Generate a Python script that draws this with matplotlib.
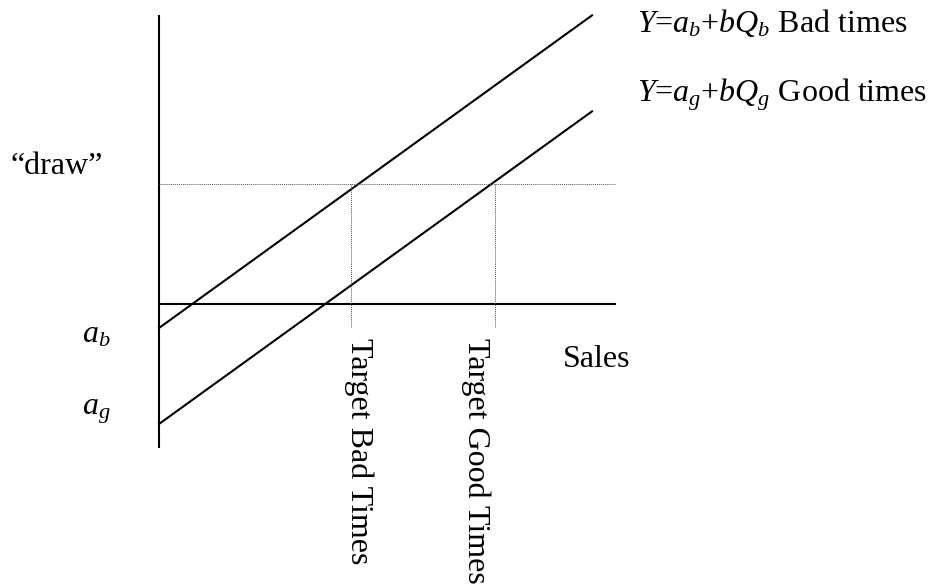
import matplotlib
matplotlib.use("Agg")
import matplotlib.pyplot as plt

plt.rcParams['font.family'] = ['Liberation Serif', 'DejaVu Serif']
plt.rcParams['mathtext.fontset'] = 'custom'
plt.rcParams['mathtext.rm'] = 'Liberation Serif'
plt.rcParams['mathtext.it'] = 'Liberation Serif:italic'

# chart values (arbitrary units, origin where the two axes cross)
sales_axis_end = 45.7
y_axis_range = [-14.4, 28.9]
a_b = -2.4          # intercept, bad times
a_g = -12.0         # intercept, good times
b = 0.722           # common slope
line_end = 43.3
draw_level = 12.0
target_bad = 19.2
target_good = 33.6
target_drop = -2.3

fig = plt.figure(figsize=(9.29, 5.85), dpi=100)
ax = fig.add_axes([0, 0, 1, 1])
ax.set_xlim(-15.9, 77.0)
ax.set_ylim(-28.1, 30.4)
ax.axis('off')

fs = 23
lw = 1.5

# axes
ax.plot([0, 0], y_axis_range, color='black', lw=lw, solid_capstyle='butt')
ax.plot([0, sales_axis_end], [0, 0], color='black', lw=lw, solid_capstyle='butt')

# the two lines
xs = [0, line_end]
ax.plot(xs, [a_b + b * x for x in xs], color='black', lw=lw)
ax.plot(xs, [a_g + b * x for x in xs], color='black', lw=lw)

# dotted guides
dot = dict(color='#555555', lw=0.7, linestyle=(0, (1, 1)))
ax.plot([0, sales_axis_end], [draw_level, draw_level], **dot)
ax.plot([target_bad, target_bad], [draw_level, target_drop], **dot)
ax.plot([target_good, target_good], [draw_level, target_drop], **dot)

# labels
ax.text(-14.9, 13.0, '\u201cdraw\u201d', fontsize=fs, va='baseline', ha='left')
ax.text(-7.7, -3.9, '$a_b$', fontsize=fs, va='baseline', ha='left')
ax.text(-7.7, -11.1, '$a_g$', fontsize=fs, va='baseline', ha='left')
ax.text(40.4, -6.3, 'Sales', fontsize=fs, va='baseline', ha='left')
ax.text(47.8, 27.2, '$Y$=$a_b$+$bQ_b$ Bad times', fontsize=fs, va='baseline', ha='left')
ax.text(47.8, 20.2, '$Y$=$a_g$+$bQ_g$ Good times', fontsize=fs, va='baseline', ha='left')
ax.text(target_bad, -3.4, 'Target Bad Times', fontsize=fs, rotation=-90,
        rotation_mode='anchor', ha='left', va='baseline')
ax.text(30.9, -3.4, 'Target Good Times', fontsize=fs, rotation=-90,
        rotation_mode='anchor', ha='left', va='baseline')

fig.savefig('out.png', dpi=100)
